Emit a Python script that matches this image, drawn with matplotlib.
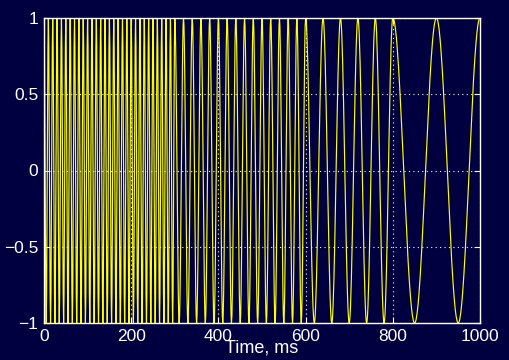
import numpy as np
import matplotlib
matplotlib.use('Agg')
import matplotlib.pyplot as plt

# Segments du signal : bornes en ms et frequence en Hz
seg_starts_ms = [0, 300, 600, 800]
seg_ends_ms = [300, 600, 800, 1000]
seg_freqs_hz = [100, 50, 25, 10]
fs_hz = 1000

xticks = [0, 200, 400, 600, 800, 1000]
yticks = [-1, -0.5, 0, 0.5, 1]

bg = '#000040'
fg = 'white'

# Construction du signal, un cosinus par segment
t_parts = []
y_parts = []
for a, b, f in zip(seg_starts_ms, seg_ends_ms, seg_freqs_hz):
    t = np.arange(a, b, 1000 / fs_hz)
    t_parts.append(t)
    y_parts.append(np.cos(2 * np.pi * f * (t - a) / 1000))
t_all = np.concatenate(t_parts + [[seg_ends_ms[-1]]])
y_all = np.concatenate(y_parts + [[1.0]])

plt.rcParams['font.family'] = ['Liberation Sans', 'DejaVu Sans']

fig = plt.figure(figsize=(5.1, 3.6), dpi=100, facecolor=bg)
ax = fig.add_axes([44 / 510, 1 - 323 / 360, 436 / 510, 305 / 360], facecolor=bg)

ax.plot(t_all, y_all, color='#ffff00', lw=0.85)

ax.set_xlim(0, 1000)
ax.set_ylim(-1, 1)
ax.set_xticks(xticks)
ax.set_yticks(yticks)
ax.set_xticklabels([str(v) for v in xticks])
ax.set_yticklabels(['\u22121', '\u22120.5', '0', '0.5', '1'])
ax.grid(True, color=fg, linestyle=(0, (1, 3)), lw=0.8)
ax.tick_params(direction='in', colors=fg, length=4, labelsize=12.5, top=True, right=True,
               labeltop=False, labelright=False, pad=4)
for s in ax.spines.values():
    s.set_color(fg)
    s.set_linewidth(1.0)
ax.set_xlabel('Time, ms', color=fg, fontsize=13, labelpad=-3)

fig.savefig('out.png', dpi=100, facecolor=bg)
